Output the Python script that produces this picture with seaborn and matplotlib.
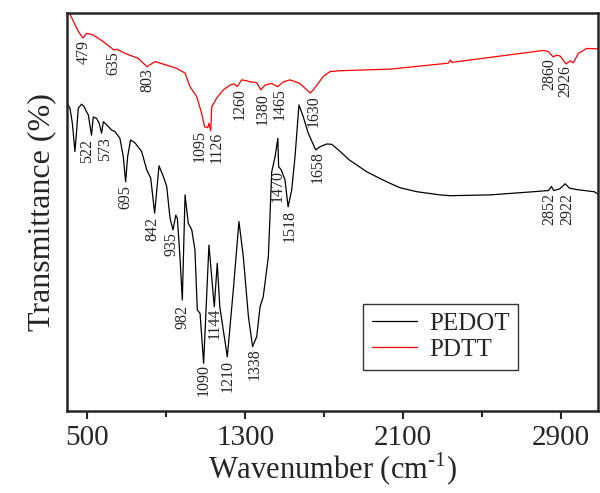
import numpy as np
import pandas as pd
import matplotlib
matplotlib.use("Agg")
import matplotlib.pyplot as plt
import seaborn as sns

# PEDOT spectrum (wavenumber, transmittance)
pedot_wn = [398, 413, 425, 438, 447, 455, 472, 484, 497, 506, 522, 531, 548, 561, 573,
            582, 599, 624, 641, 666, 683, 695, 705, 720, 742, 776, 802, 822, 842, 864,
            886, 903, 920, 935, 949, 957, 970, 982, 996, 1012, 1030, 1046, 1058, 1072,
            1090, 1117, 1144, 1159, 1172, 1210, 1240, 1269, 1291, 1317, 1338, 1359, 1376,
            1392, 1418, 1435, 1452, 1466, 1470, 1483, 1502, 1518, 1536, 1553, 1573, 1595,
            1620, 1658, 1680, 1714, 1739, 1773, 1830, 1917, 1980, 2035, 2085, 2170, 2288,
            2339, 2541, 2761, 2837, 2852, 2864, 2893, 2922, 2943, 2985, 3069, 3088]
pedot_t = [77.3, 76.1, 72.3, 65.2, 70.6, 76.1, 77.1, 76.5, 75.2, 74.4, 69.3, 73.9, 73.5,
           72.3, 69.8, 72.7, 71.9, 70.6, 70.2, 68.5, 63.9, 57.6, 63.9, 68.1, 67.4, 65.2,
           60.6, 58.5, 49.7, 61.6, 58.9, 56.4, 48.4, 45.5, 49.2, 48.4, 38.9, 27.9, 54.3,
           47.2, 45.5, 40.5, 25.4, 24.5, 12.0, 41.7, 26.2, 37.1, 26.2, 13.6, 30.2, 47.6,
           38.8, 23.7, 16.2, 18.7, 26.2, 28.7, 38.8, 60.1, 63.9, 68.5, 61.4, 60.6, 58.1,
           51.3, 55.5, 63.9, 76.9, 73.9, 69.8, 65.6, 66.4, 67.1, 67.0, 65.6, 63.0, 60.1,
           58.5, 57.2, 56.1, 55.1, 54.3, 54.1, 54.3, 55.1, 55.4, 56.4, 55.4, 55.8, 57.1,
           56.0, 55.6, 55.1, 54.5]

# PDTT spectrum
pdtt_wn = [405, 455, 479, 497, 531, 582, 616, 635, 650, 700, 759, 803, 844, 903, 954,
           996, 1021, 1055, 1080, 1095, 1111, 1117, 1126, 1131, 1156, 1190, 1224, 1245,
           1260, 1283, 1308, 1325, 1359, 1380, 1401, 1435, 1465, 1494, 1528, 1578, 1630,
           1646, 1697, 1731, 1782, 2035, 2330, 2339, 2348, 2626, 2811, 2837, 2860, 2879,
           2896, 2926, 2947, 2963, 2989, 3031, 3088]
pdtt_t = [100.5, 95.4, 93.7, 94.9, 94.5, 92.8, 91.5, 90.7, 90.9, 89.7, 88.6, 86.5, 87.8,
          86.9, 86.1, 84.9, 81.5, 79.0, 74.8, 71.4, 71.2, 72.3, 70.4, 76.4, 78.6, 80.7,
          81.9, 82.2, 81.5, 83.2, 83.0, 82.7, 82.5, 80.7, 81.9, 82.3, 81.5, 82.7, 83.2,
          82.3, 79.9, 80.7, 84.1, 85.3, 85.5, 85.9, 87.4, 88.2, 87.6, 89.4, 90.6, 90.3,
          89.0, 89.4, 89.2, 87.2, 88.0, 87.5, 89.9, 91.1, 91.0]

# peak labels: text, x position, top of text
pedot_labels = ["522", "573", "695", "842", "935", "982", "1090", "1144", "1210", "1338",
                "1470", "1518", "1658", "2852", "2922"]
pedot_lab_x = [501, 589, 692, 832, 929, 984, 1092, 1148, 1210, 1347, 1465, 1524, 1668,
               2840, 2933]
pedot_lab_y = [68.4, 68.8, 56.8, 48.8, 45.0, 26.6, 11.8, 26.0, 12.8, 15.7, 60.6, 50.5,
               65.2, 54.7, 54.7]

pdtt_labels = ["479", "635", "803", "1095", "1126", "1260", "1380", "1465", "1630",
               "2860", "2926"]
pdtt_lab_x = [481, 632, 805, 1071, 1156, 1272, 1387, 1477, 1646, 2842, 2923]
pdtt_lab_y = [93.2, 90.5, 86.1, 70.6, 70.2, 81.1, 79.8, 81.1, 79.4, 88.6, 86.9]

sns.set_style("ticks")
plt.rcParams["font.family"] = ["Liberation Serif", "DejaVu Serif"]
plt.rcParams["mathtext.fontset"] = "custom"
plt.rcParams["mathtext.rm"] = "Liberation Serif"

fig = plt.figure(figsize=(6, 4.93), dpi=100)
ax = fig.add_axes([0.1117, 0.1663, 0.8850, 0.8073])

pedot = pd.DataFrame({"wn": pedot_wn, "t": pedot_t})
pdtt = pd.DataFrame({"wn": pdtt_wn, "t": pdtt_t})
sns.lineplot(data=pedot, x="wn", y="t", color="black", lw=0.9, label="PEDOT",
             estimator=None, sort=False, ax=ax)
sns.lineplot(data=pdtt, x="wn", y="t", color="red", lw=0.9, label="PDTT",
             estimator=None, sort=False, ax=ax)

for txt, x, y in zip(pedot_labels, pedot_lab_x, pedot_lab_y):
    ax.text(x, y, txt, rotation=90, ha="center", va="top", fontsize=11.5)
for txt, x, y in zip(pdtt_labels, pdtt_lab_x, pdtt_lab_y):
    ax.text(x, y, txt, rotation=90, ha="center", va="top", fontsize=11.5)

ax.set_xlim(398, 3088)
ax.set_ylim(0, 100)
ax.set_xticks([500, 1300, 2100, 2900])
ax.set_xticks([900, 1700, 2500], minor=True)
ax.set_yticks([])
ax.tick_params(axis="x", which="major", length=6, width=1.5, labelsize=21, pad=4)
ax.tick_params(axis="x", which="minor", length=4, width=1.5)
for s in ax.spines.values():
    s.set_linewidth(1.8)
    s.set_visible(True)

ax.set_xlabel("Wavenumber (cm$^{\\text{-1}}$)", fontsize=22, labelpad=0)
ax.set_ylabel("Transmittance (%)", fontsize=23, labelpad=8)

leg = ax.legend(loc="upper left", bbox_to_anchor=(0.557, 0.27), fontsize=18,
                frameon=True, fancybox=False, edgecolor="black", handlelength=1.8,
                handletextpad=0.5, borderpad=0.35, labelspacing=0.15,
                borderaxespad=0)
leg.get_frame().set_linewidth(1.0)

fig.savefig("out.png", dpi=100)
